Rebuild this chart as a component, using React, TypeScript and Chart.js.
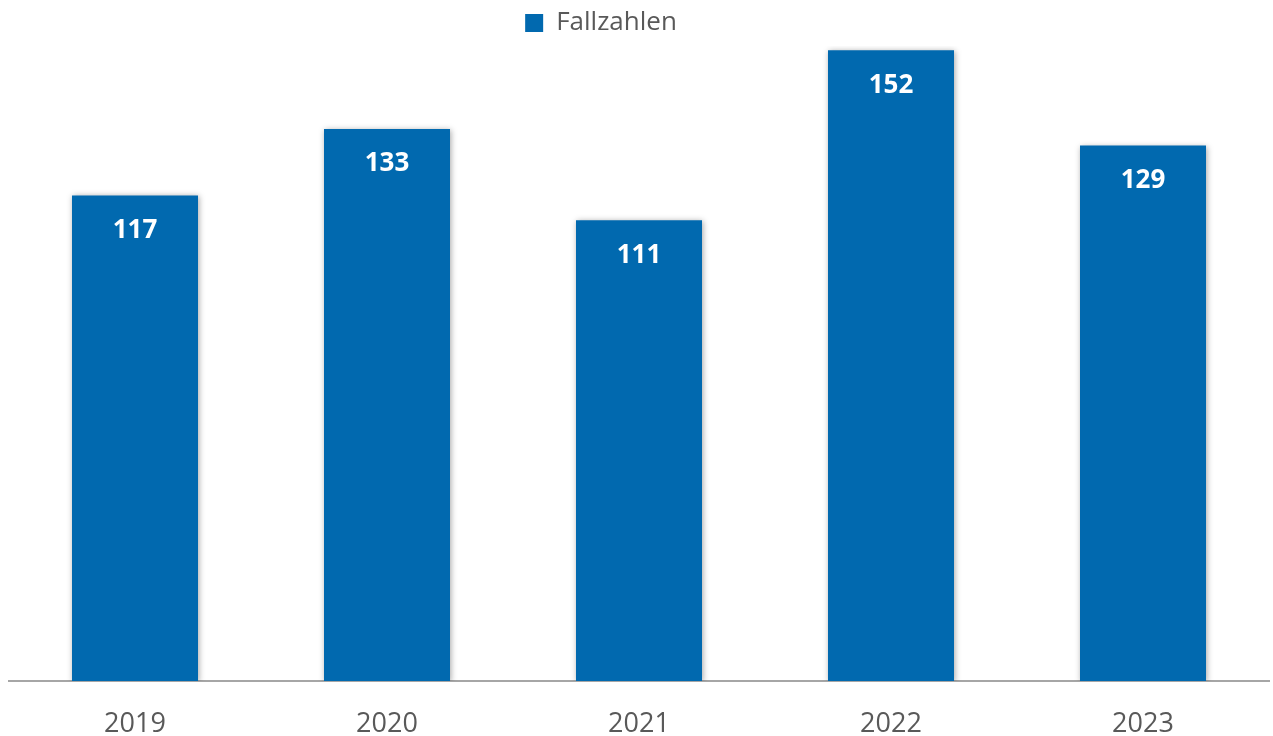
import React, { useEffect, useRef } from "react";
import { Chart, registerables } from "chart.js";

Chart.register(...registerables);

const categories: string[] = ["2019", "2020", "2021", "2022", "2023"];
const seriesName = "Fallzahlen";
const values: number[] = [117, 133, 111, 152, 129];
const yMax = 153;

const FONT = "'Open Sans', 'Liberation Sans', sans-serif";
const BAR_COLOR = "#0169AF";
const TEXT_COLOR = "#595959";

const shadowPlugin = {
  id: "barShadow",
  beforeDatasetsDraw(chart: any) {
    const ctx = chart.ctx;
    ctx.save();
    ctx.shadowColor = "rgba(0,0,0,0.35)";
    ctx.shadowBlur = 6;
    ctx.shadowOffsetX = 1;
    ctx.shadowOffsetY = 1;
  },
  afterDatasetsDraw(chart: any) {
    chart.ctx.restore();
  },
};

const labelPlugin = {
  id: "barLabels",
  afterDraw(chart: any) {
    const ctx = chart.ctx;
    const meta = chart.getDatasetMeta(0);
    const data = chart.data.datasets[0].data as number[];
    ctx.save();
    ctx.fillStyle = "#ffffff";
    ctx.font = `bold 26px ${FONT}`;
    ctx.textAlign = "center";
    ctx.textBaseline = "middle";
    meta.data.forEach((el: any, i: number) => {
      ctx.fillText(String(data[i]), el.x, el.y + 35);
    });
    ctx.restore();
  },
};

const legendShift = {
  id: "legendShift",
  beforeDraw(chart: any) {
    const lg = chart.legend;
    if (lg) {
      lg.left -= 38;
      lg.right -= 38;
    }
  },
};

export default function App() {
  const ref = useRef<HTMLCanvasElement | null>(null);
  useEffect(() => {
    if (!ref.current) return;
    const chart = new Chart(ref.current, {
      type: "bar",
      data: {
        labels: categories,
        datasets: [
          {
            label: seriesName,
            data: values,
            backgroundColor: BAR_COLOR,
            borderWidth: 0,
            barPercentage: 0.5,
            categoryPercentage: 1,
          },
        ],
      },
      options: {
        animation: false,
        responsive: true,
        maintainAspectRatio: false,
        layout: { padding: { left: 9, right: 4, top: 0, bottom: 0 } },
        plugins: {
          legend: {
            display: true,
            position: "top",
            labels: {
              boxWidth: 18,
              boxHeight: 18,
              padding: 10,
              color: TEXT_COLOR,
              font: { family: FONT, size: 26 },
            },
          },
          tooltip: { enabled: false },
        },
        scales: {
          x: {
            grid: { display: false, drawTicks: false },
            border: { display: true, color: "#A6A6A6", width: 2 },
            ticks: {
              color: TEXT_COLOR,
              padding: 30,
              font: { family: FONT, size: 27, lineHeight: 1 },
            },
            afterFit: (scale: any) => {
              scale.height = 55;
            },
          },
          y: {
            display: false,
            min: 0,
            max: yMax,
          },
        },
      },
      plugins: [shadowPlugin, labelPlugin, legendShift],
    });
    return () => chart.destroy();
  }, []);
  return (
    <div style={{ position: "fixed", left: 0, top: 0, width: 1273, height: 736 }}>
      <canvas ref={ref} />
    </div>
  );
}
